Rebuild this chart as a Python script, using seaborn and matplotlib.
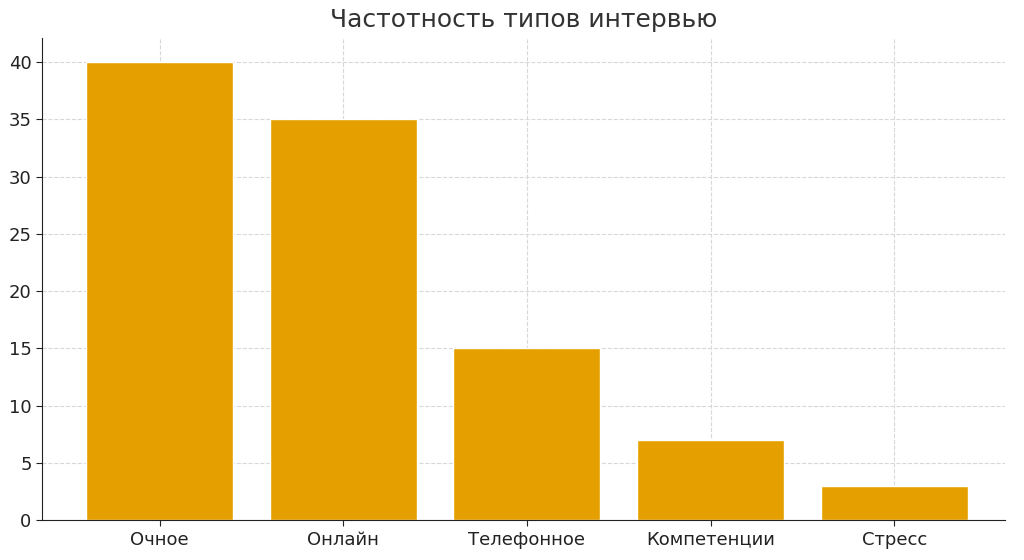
import seaborn as sns
import pandas as pd
import matplotlib.pyplot as plt

categories = ["Очное", "Онлайн", "Телефонное", "Компетенции", "Стресс"]
counts = [40, 35, 15, 7, 3]

sns.set_style("whitegrid", {"grid.linestyle": "--", "grid.color": "#d8d8d8"})
plt.rcParams['font.family'] = ['DejaVu Sans']

data = pd.DataFrame({"type": categories, "count": counts})

fig = plt.figure(figsize=(10.24, 5.6), dpi=100)
ax = fig.add_axes([0.041, 0.071, 0.94, 0.861])
sns.barplot(data=data, x="type", y="count", color="#E5A000", saturation=1, width=0.8, ax=ax)
ax.set_xlim(-0.64, 4.6)
ax.set_ylim(0, 42.1)
ax.set_xlabel("")
ax.set_ylabel("")
ax.set_title("Частотность типов интервью", fontsize=18, color="#333333", pad=8)
ax.tick_params(labelsize=13, colors="#222222", length=4, left=True, bottom=True)
for s in ["top", "right"]:
    ax.spines[s].set_visible(False)
for s in ["left", "bottom"]:
    ax.spines[s].set_color("#222222")
ax.grid(True, axis="both")
ax.set_axisbelow(True)
fig.savefig("out.png", dpi=100)
